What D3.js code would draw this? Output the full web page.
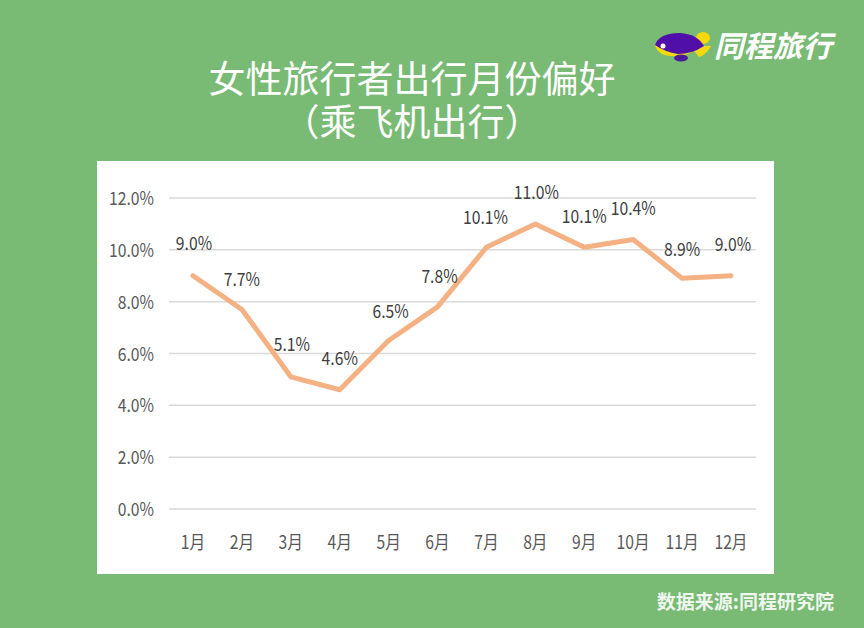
<!DOCTYPE html>
<html>
<head>
<meta charset="utf-8">
<script src="https://cdn.jsdelivr.net/npm/d3@7/dist/d3.min.js"></script>
<style>
  html, body { margin: 0; padding: 0; background: #79ba75; }
  svg { display: block; }
  text { font-family: "Noto Sans CJK SC", "Noto Sans", sans-serif; }
</style>
</head>
<body>
<svg id="chart" width="864" height="628"></svg>
<script>
const months = ['1月', '2月', '3月', '4月', '5月', '6月', '7月', '8月', '9月', '10月', '11月', '12月'];
const shares = [9.0, 7.7, 5.1, 4.6, 6.5, 7.8, 10.1, 11.0, 10.1, 10.4, 8.9, 9.0];
const yTicks = [0, 2, 4, 6, 8, 10, 12];
const titleLines = ['女性旅行者出行月份偏好', '（乘飞机出行）'];
const logoText = '同程旅行';
const sourceText = '数据来源:同程研究院';

// label nudges from the point
const labelDx = [1, 0, 1, 0, 2, 2, -1, 1, 0, 0, 0, 2];
const labelDy = [-33, -30, -33, -32, -30, -31, -30, -32, -31, -31, -29, -32];

const svg = d3.select('#chart');

const x = d3.scalePoint().domain(months).range([193, 731]);
const y = d3.scaleLinear().domain([0, 12]).range([509, 198]);

// squeeze text sideways a bit, the source font is narrow
function narrow(sel, px, py, k) {
  return sel.attr('transform', `translate(${px},${py}) scale(${k},1)`);
}

svg.append('rect')
  .attr('x', 97)
  .attr('y', 161)
  .attr('width', 677)
  .attr('height', 413)
  .attr('fill', '#fff');

// Gridlines
svg.append('g')
  .selectAll('line')
  .data(yTicks)
  .join('line')
  .attr('x1', 169)
  .attr('x2', 756)
  .attr('y1', d => y(d))
  .attr('y2', d => y(d))
  .attr('stroke', '#d9d9d9')
  .attr('stroke-width', 1.5);

// Y axis labels
svg.append('g')
  .selectAll('text')
  .data(yTicks)
  .join('text')
  .attr('text-anchor', 'end')
  .attr('font-size', 18.5)
  .attr('fill', '#595959')
  .text(d => `${d.toFixed(1)}%`)
  .each(function(d) {
    narrow(d3.select(this), 154, y(d) + 7, 0.85);
  });

// X axis labels
svg.append('g')
  .selectAll('text')
  .data(months)
  .join('text')
  .attr('text-anchor', 'middle')
  .attr('font-size', 18.5)
  .attr('fill', '#595959')
  .text(d => d)
  .each(function(d) {
    narrow(d3.select(this), x(d), 549, 0.85);
  });

const line = d3.line()
  .x((d, i) => x(months[i]))
  .y(d => y(d));

svg.append('path')
  .datum(shares)
  .attr('d', line)
  .attr('fill', 'none')
  .attr('stroke', '#f4b183')
  .attr('stroke-width', 5)
  .attr('stroke-linecap', 'round')
  .attr('stroke-linejoin', 'round');

// Data labels
svg.append('g')
  .selectAll('text')
  .data(shares)
  .join('text')
  .attr('text-anchor', 'middle')
  .attr('font-size', 18.5)
  .attr('fill', '#404040')
  .text(d => `${d.toFixed(1)}%`)
  .each(function(d, i) {
    narrow(d3.select(this), x(months[i]) + labelDx[i], y(d) + labelDy[i] + 7, 0.85);
  });

// Title
svg.append('g')
  .selectAll('text')
  .data(titleLines)
  .join('text')
  .attr('x', 412)
  .attr('y', (d, i) => 93 + i * 43)
  .attr('text-anchor', 'middle')
  .attr('font-size', 37)
  .attr('fill', '#fff')
  .text(d => d);

// Source
svg.append('text')
  .attr('x', 834)
  .attr('y', 609)
  .attr('text-anchor', 'end')
  .attr('font-size', 19)
  .attr('font-weight', 700)
  .attr('fill', '#fff')
  .attr('fill-opacity', 0.9)
  .text(sourceText);

// Logo
const logo = svg.append('g');
logo.append('ellipse').attr('cx', 703).attr('cy', 38).attr('rx', 7).attr('ry', 6).attr('fill', '#f5d90a');
logo.append('path')
  .attr('d', 'M690,46 L711,46 Q706,55 699,57 Z')
  .attr('fill', '#f5d90a');
logo.append('path')
  .attr('d', 'M655,45 Q658,58 680,56 Q692,54 697,48 Z')
  .attr('fill', '#f5d90a');
logo.append('ellipse').attr('cx', 681).attr('cy', 58).attr('rx', 7).attr('ry', 3.5).attr('fill', '#4d1a9c');
logo.append('path')
  .attr('d', 'M655,45 Q659,33 680,33 Q697,34 704,46 Q692,54 678,54 Q665,52 655,45 Z')
  .attr('fill', '#4f0fa8');
logo.append('circle').attr('cx', 663).attr('cy', 46).attr('r', 2.5).attr('fill', '#fff');
logo.append('text')
  .attr('x', 714)
  .attr('y', 57)
  .attr('font-size', 29.5)
  .attr('font-weight', 700)
  .attr('font-style', 'italic')
  .attr('fill', '#fff')
  .text(logoText);
</script>
</body>
</html>
